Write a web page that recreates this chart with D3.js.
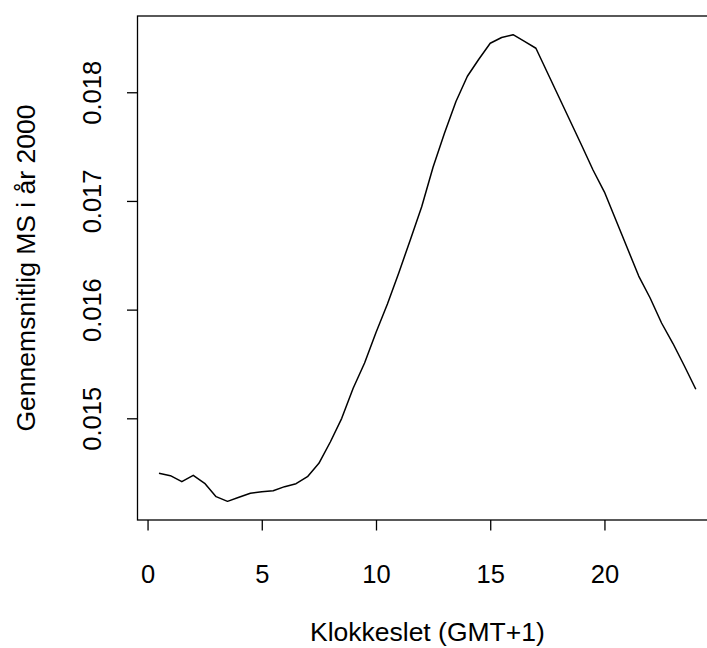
<!DOCTYPE html>
<html>
<head>
<meta charset="utf-8">
<script src="https://cdn.jsdelivr.net/npm/d3@7"></script>
<style>
  html, body { margin: 0; padding: 0; background: #fff; }
  svg { display: block; overflow: hidden; }
  text { font-family: "Liberation Sans", Arial, Helvetica, sans-serif; fill: #000; }
</style>
</head>
<body>
<script>
// Data: hour of day (GMT+1) and average MS in year 2000
const hours = [0.5,1,1.5,2,2.5,3,3.5,4,4.5,5,5.5,6,6.5,7,7.5,8,8.5,9,9.5,10,10.5,11,11.5,12,
               12.5,13,13.5,14,14.5,15,15.5,16,16.5,17,17.5,18,18.5,19,19.5,20,20.5,21,21.5,22,22.5,23,23.5,24];
const values = [0.014494,0.014472,0.014417,0.014475,0.014402,0.014279,0.014236,0.014273,0.014310,0.014325,
                0.014334,0.014371,0.014398,0.014463,0.014586,0.014782,0.015000,0.015276,0.015509,0.015790,
                0.016052,0.016340,0.016641,0.016947,0.017312,0.017625,0.017915,0.018147,0.018304,0.018451,
                0.018504,0.018530,0.018469,0.018405,0.018182,0.017959,0.017736,0.017512,0.017285,0.017082,
                0.016825,0.016567,0.016309,0.016107,0.015877,0.015688,0.015481,0.015267];
const xTicks = [0, 5, 10, 15, 20];
const yTicks = [0.015, 0.016, 0.017, 0.018];
const yTickLabels = ["0.015", "0.016", "0.017", "0.018"];
const xTitle = "Klokkeslet (GMT+1)";
const yTitle = "Gennemsnitlig MS i år 2000";

(function () {
const W = 707, H = 648;
const pL = 137.5, pT = 16, pB = 520, pR = 717.3;
const fsTick = 25.5, fsTitle = 26.5;

const svg = d3.select("body").append("svg").attr("width", W).attr("height", H);

// R-style 4% axis extension
function ext(arr) {
  const [a, b] = d3.extent(arr);
  const d = (b - a) * 0.04;
  return [a - d, b + d];
}
const x = d3.scaleLinear().domain(ext(hours)).range([pL, pR]);
const y = d3.scaleLinear().domain(ext(values)).range([pB, pT]);

// plot box
svg.append("rect")
  .attr("x", pL).attr("y", pT)
  .attr("width", pR - pL).attr("height", pB - pT)
  .attr("fill", "none").attr("stroke", "#000").attr("stroke-width", 1.3);

// x axis
const gx = svg.append("g").attr("transform", `translate(0,${pB})`)
  .call(d3.axisBottom(x).tickValues(xTicks).tickSize(10.5).tickFormat(d3.format("d")));
gx.select(".domain").remove();
gx.selectAll(".tick line").attr("stroke", "#000").attr("stroke-width", 1.3);
gx.selectAll(".tick text").attr("font-size", fsTick).attr("font-family", null)
  .attr("y", 62.5).attr("dy", null);

// y axis
const gy = svg.append("g").attr("transform", `translate(${pL},0)`)
  .call(d3.axisLeft(y).tickValues(yTicks).tickSize(10.5).tickFormat((d, i) => yTickLabels[i]));
gy.select(".domain").remove();
gy.selectAll(".tick line").attr("stroke", "#000").attr("stroke-width", 1.3);
gy.selectAll(".tick text")
  .attr("font-size", fsTick).attr("font-family", null)
  .attr("x", null).attr("dy", null)
  .attr("text-anchor", "middle")
  .attr("transform", "translate(-36.5,0) rotate(-90)");

// line
const line = d3.line().x((d, i) => x(hours[i])).y(d => y(d));
svg.append("path").datum(values)
  .attr("d", line)
  .attr("fill", "none").attr("stroke", "#000").attr("stroke-width", 1.5)
  .attr("stroke-linejoin", "round");

// titles
svg.append("text")
  .attr("x", (pL + pR) / 2).attr("y", 640.5)
  .attr("text-anchor", "middle").attr("font-size", fsTitle)
  .text(xTitle);
svg.append("text")
  .attr("transform", `translate(35,${(pT + pB) / 2}) rotate(-90)`)
  .attr("text-anchor", "middle").attr("font-size", fsTitle)
  .text(yTitle);
})();
</script>
</body>
</html>
